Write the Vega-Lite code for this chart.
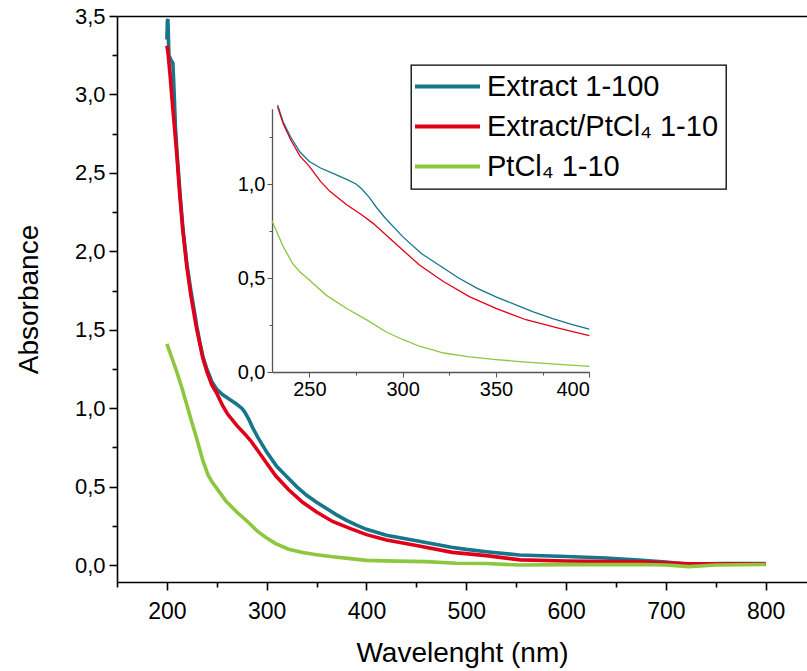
{
  "$schema": "https://vega.github.io/schema/vega-lite/v6.json",
  "width": 690,
  "height": 566,
  "autosize": {"type": "none"},
  "padding": {"left": 117, "top": 16, "right": 0, "bottom": 89},
  "background": "white",
  "config": {
    "view": {"stroke": null},
    "font": "Liberation Sans",
    "axis": {"grid": false, "domainColor": "black", "tickColor": "black", "labelColor": "black", "titleColor": "black", "domainWidth": 1.6, "tickWidth": 1.6, "labelFont": "Liberation Sans", "titleFont": "Liberation Sans", "titleFontWeight": "normal"},
    "legend": {"orient": "none", "legendX": 294, "legendY": 49, "strokeColor": "black", "strokeWidth": 1.3, "fillColor": "white", "padding": 7, "symbolType": "M-5,0H5", "symbolSize": 169, "symbolOffset": 15, "symbolStrokeWidth": 4, "labelFontSize": 29, "labelFont": "Liberation Sans", "labelColor": "black", "rowPadding": 10, "labelOffset": 25, "labelLimit": 0}
  },
  "datasets": {
    "spec": [
      {"s": "Extract 1-100", "wl": 200, "a": 3.35},
      {"s": "Extract 1-100", "wl": 200.5, "a": 3.47},
      {"s": "Extract 1-100", "wl": 201, "a": 3.48},
      {"s": "Extract 1-100", "wl": 202, "a": 3.25},
      {"s": "Extract 1-100", "wl": 204, "a": 3.22},
      {"s": "Extract 1-100", "wl": 206, "a": 3.2},
      {"s": "Extract 1-100", "wl": 207, "a": 3.05},
      {"s": "Extract 1-100", "wl": 208.5, "a": 2.8},
      {"s": "Extract 1-100", "wl": 210, "a": 2.64},
      {"s": "Extract 1-100", "wl": 213, "a": 2.38},
      {"s": "Extract 1-100", "wl": 216, "a": 2.15},
      {"s": "Extract 1-100", "wl": 220, "a": 1.92},
      {"s": "Extract 1-100", "wl": 224, "a": 1.75},
      {"s": "Extract 1-100", "wl": 228, "a": 1.6},
      {"s": "Extract 1-100", "wl": 230, "a": 1.52},
      {"s": "Extract 1-100", "wl": 233, "a": 1.42},
      {"s": "Extract 1-100", "wl": 236, "a": 1.33},
      {"s": "Extract 1-100", "wl": 240, "a": 1.25},
      {"s": "Extract 1-100", "wl": 245, "a": 1.17},
      {"s": "Extract 1-100", "wl": 250, "a": 1.12},
      {"s": "Extract 1-100", "wl": 256, "a": 1.085},
      {"s": "Extract 1-100", "wl": 263, "a": 1.055},
      {"s": "Extract 1-100", "wl": 270, "a": 1.025},
      {"s": "Extract 1-100", "wl": 275, "a": 1.0},
      {"s": "Extract 1-100", "wl": 278, "a": 0.975},
      {"s": "Extract 1-100", "wl": 282, "a": 0.93},
      {"s": "Extract 1-100", "wl": 286, "a": 0.875},
      {"s": "Extract 1-100", "wl": 291, "a": 0.815},
      {"s": "Extract 1-100", "wl": 300, "a": 0.72},
      {"s": "Extract 1-100", "wl": 310, "a": 0.63},
      {"s": "Extract 1-100", "wl": 320, "a": 0.565},
      {"s": "Extract 1-100", "wl": 330, "a": 0.5},
      {"s": "Extract 1-100", "wl": 340, "a": 0.445},
      {"s": "Extract 1-100", "wl": 350, "a": 0.4},
      {"s": "Extract 1-100", "wl": 360, "a": 0.36},
      {"s": "Extract 1-100", "wl": 370, "a": 0.32},
      {"s": "Extract 1-100", "wl": 380, "a": 0.285},
      {"s": "Extract 1-100", "wl": 390, "a": 0.255},
      {"s": "Extract 1-100", "wl": 400, "a": 0.228},
      {"s": "Extract 1-100", "wl": 420, "a": 0.19},
      {"s": "Extract 1-100", "wl": 450, "a": 0.155},
      {"s": "Extract 1-100", "wl": 485, "a": 0.114},
      {"s": "Extract 1-100", "wl": 500, "a": 0.1},
      {"s": "Extract 1-100", "wl": 520, "a": 0.085},
      {"s": "Extract 1-100", "wl": 553, "a": 0.064},
      {"s": "Extract 1-100", "wl": 600, "a": 0.055},
      {"s": "Extract 1-100", "wl": 640, "a": 0.045},
      {"s": "Extract 1-100", "wl": 676, "a": 0.03},
      {"s": "Extract 1-100", "wl": 700, "a": 0.02},
      {"s": "Extract 1-100", "wl": 723, "a": 0.005},
      {"s": "Extract 1-100", "wl": 740, "a": 0.008},
      {"s": "Extract 1-100", "wl": 760, "a": 0.01},
      {"s": "Extract 1-100", "wl": 800, "a": 0.01},

      {"s": "Extract/PtCl₄ 1-10", "wl": 200, "a": 3.31},
      {"s": "Extract/PtCl₄ 1-10", "wl": 201, "a": 3.27},
      {"s": "Extract/PtCl₄ 1-10", "wl": 203, "a": 3.14},
      {"s": "Extract/PtCl₄ 1-10", "wl": 205, "a": 2.98},
      {"s": "Extract/PtCl₄ 1-10", "wl": 208, "a": 2.76},
      {"s": "Extract/PtCl₄ 1-10", "wl": 210, "a": 2.61},
      {"s": "Extract/PtCl₄ 1-10", "wl": 213, "a": 2.35},
      {"s": "Extract/PtCl₄ 1-10", "wl": 216, "a": 2.13},
      {"s": "Extract/PtCl₄ 1-10", "wl": 220, "a": 1.9},
      {"s": "Extract/PtCl₄ 1-10", "wl": 224, "a": 1.72},
      {"s": "Extract/PtCl₄ 1-10", "wl": 228, "a": 1.57},
      {"s": "Extract/PtCl₄ 1-10", "wl": 230, "a": 1.5},
      {"s": "Extract/PtCl₄ 1-10", "wl": 233, "a": 1.41},
      {"s": "Extract/PtCl₄ 1-10", "wl": 236, "a": 1.32},
      {"s": "Extract/PtCl₄ 1-10", "wl": 240, "a": 1.235},
      {"s": "Extract/PtCl₄ 1-10", "wl": 245, "a": 1.148},
      {"s": "Extract/PtCl₄ 1-10", "wl": 250, "a": 1.094},
      {"s": "Extract/PtCl₄ 1-10", "wl": 256, "a": 1.014},
      {"s": "Extract/PtCl₄ 1-10", "wl": 261, "a": 0.961},
      {"s": "Extract/PtCl₄ 1-10", "wl": 270, "a": 0.89},
      {"s": "Extract/PtCl₄ 1-10", "wl": 278, "a": 0.836},
      {"s": "Extract/PtCl₄ 1-10", "wl": 284, "a": 0.792},
      {"s": "Extract/PtCl₄ 1-10", "wl": 291, "a": 0.73},
      {"s": "Extract/PtCl₄ 1-10", "wl": 300, "a": 0.649},
      {"s": "Extract/PtCl₄ 1-10", "wl": 309, "a": 0.569},
      {"s": "Extract/PtCl₄ 1-10", "wl": 322, "a": 0.48},
      {"s": "Extract/PtCl₄ 1-10", "wl": 336, "a": 0.4},
      {"s": "Extract/PtCl₄ 1-10", "wl": 350, "a": 0.338},
      {"s": "Extract/PtCl₄ 1-10", "wl": 366, "a": 0.278},
      {"s": "Extract/PtCl₄ 1-10", "wl": 384, "a": 0.232},
      {"s": "Extract/PtCl₄ 1-10", "wl": 400, "a": 0.194},
      {"s": "Extract/PtCl₄ 1-10", "wl": 420, "a": 0.16},
      {"s": "Extract/PtCl₄ 1-10", "wl": 450, "a": 0.125},
      {"s": "Extract/PtCl₄ 1-10", "wl": 486, "a": 0.081},
      {"s": "Extract/PtCl₄ 1-10", "wl": 520, "a": 0.06},
      {"s": "Extract/PtCl₄ 1-10", "wl": 554, "a": 0.033},
      {"s": "Extract/PtCl₄ 1-10", "wl": 600, "a": 0.026},
      {"s": "Extract/PtCl₄ 1-10", "wl": 675, "a": 0.02},
      {"s": "Extract/PtCl₄ 1-10", "wl": 700, "a": 0.015},
      {"s": "Extract/PtCl₄ 1-10", "wl": 723, "a": 0.008},
      {"s": "Extract/PtCl₄ 1-10", "wl": 760, "a": 0.008},
      {"s": "Extract/PtCl₄ 1-10", "wl": 800, "a": 0.008},

      {"s": "PtCl₄ 1-10", "wl": 200, "a": 1.41},
      {"s": "PtCl₄ 1-10", "wl": 205, "a": 1.32},
      {"s": "PtCl₄ 1-10", "wl": 210, "a": 1.23},
      {"s": "PtCl₄ 1-10", "wl": 215, "a": 1.13},
      {"s": "PtCl₄ 1-10", "wl": 220, "a": 1.02},
      {"s": "PtCl₄ 1-10", "wl": 225, "a": 0.91},
      {"s": "PtCl₄ 1-10", "wl": 230, "a": 0.804},
      {"s": "PtCl₄ 1-10", "wl": 233, "a": 0.735},
      {"s": "PtCl₄ 1-10", "wl": 236, "a": 0.667},
      {"s": "PtCl₄ 1-10", "wl": 241, "a": 0.578},
      {"s": "PtCl₄ 1-10", "wl": 245, "a": 0.532},
      {"s": "PtCl₄ 1-10", "wl": 250, "a": 0.489},
      {"s": "PtCl₄ 1-10", "wl": 259, "a": 0.409},
      {"s": "PtCl₄ 1-10", "wl": 270, "a": 0.338},
      {"s": "PtCl₄ 1-10", "wl": 281, "a": 0.276},
      {"s": "PtCl₄ 1-10", "wl": 291, "a": 0.214},
      {"s": "PtCl₄ 1-10", "wl": 300, "a": 0.173},
      {"s": "PtCl₄ 1-10", "wl": 309, "a": 0.137},
      {"s": "PtCl₄ 1-10", "wl": 322, "a": 0.101},
      {"s": "PtCl₄ 1-10", "wl": 336, "a": 0.08},
      {"s": "PtCl₄ 1-10", "wl": 350, "a": 0.066},
      {"s": "PtCl₄ 1-10", "wl": 366, "a": 0.053},
      {"s": "PtCl₄ 1-10", "wl": 384, "a": 0.041},
      {"s": "PtCl₄ 1-10", "wl": 400, "a": 0.03},
      {"s": "PtCl₄ 1-10", "wl": 430, "a": 0.025},
      {"s": "PtCl₄ 1-10", "wl": 460, "a": 0.022},
      {"s": "PtCl₄ 1-10", "wl": 490, "a": 0.012},
      {"s": "PtCl₄ 1-10", "wl": 520, "a": 0.01},
      {"s": "PtCl₄ 1-10", "wl": 553, "a": 0.0},
      {"s": "PtCl₄ 1-10", "wl": 600, "a": 0.003},
      {"s": "PtCl₄ 1-10", "wl": 676, "a": 0.004},
      {"s": "PtCl₄ 1-10", "wl": 700, "a": 0.0},
      {"s": "PtCl₄ 1-10", "wl": 723, "a": -0.01},
      {"s": "PtCl₄ 1-10", "wl": 750, "a": 0.0},
      {"s": "PtCl₄ 1-10", "wl": 800, "a": 0.004}
    ]
  },
  "data": {"name": "spec"},
  "resolve": {"scale": {"x": "independent", "y": "independent"}, "axis": {"x": "independent", "y": "independent"}},
  "layer": [
    {
      "mark": {"type": "line", "strokeWidth": 3.6, "clip": true},
      "encoding": {
        "x": {"field": "wl", "type": "quantitative", "scale": {"domain": [150, 841.4], "nice": false, "zero": false},
              "axis": {"orient": "bottom", "values": [200, 300, 400, 500, 600, 700, 800], "tickSize": 8, "labelFontSize": 23, "labelPadding": 10, "title": "Wavelenght (nm)", "titleFontSize": 28, "titlePadding": 16}},
        "y": {"field": "a", "type": "quantitative", "scale": {"domain": [-0.108, 3.5], "nice": false, "zero": false},
              "axis": {"orient": "left", "values": [0, 0.5, 1, 1.5, 2, 2.5, 3, 3.5], "tickSize": 8, "labelFontSize": 22, "labelPadding": 4, "labelExpr": "replace(format(datum.value, '.1f'), '.', ',')", "title": "Absorbance", "titleFontSize": 28, "titlePadding": 31}},
        "color": {"field": "s", "type": "nominal", "title": null,
                  "scale": {"domain": ["Extract 1-100", "Extract/PtCl₄ 1-10", "PtCl₄ 1-10"], "range": ["#17758c", "#e1001a", "#8dc63f"]}}
      }
    },
    {
      "mark": {"type": "line", "opacity": 0},
      "encoding": {
        "x": {"field": "wl", "type": "quantitative", "scale": {"domain": [150, 841.4], "nice": false, "zero": false},
              "axis": {"orient": "bottom", "values": [150, 250, 350, 450, 550, 650, 750], "tickSize": 5, "labels": false, "domain": false, "title": null}},
        "y": {"field": "a", "type": "quantitative", "scale": {"domain": [-0.108, 3.5], "nice": false, "zero": false},
              "axis": {"orient": "left", "values": [0.25, 0.75, 1.25, 1.75, 2.25, 2.75, 3.25], "tickSize": 5, "labels": false, "domain": false, "title": null}}
      }
    },
    {
      "mark": {"type": "line", "opacity": 0},
      "encoding": {
        "x": {"field": "wl", "type": "quantitative", "scale": {"domain": [150, 841.4], "nice": false, "zero": false},
              "axis": {"orient": "top", "values": [], "ticks": false, "labels": false, "title": null}}
      }
    },
    {
      "transform": [{"filter": "datum.wl >= 230 && datum.wl <= 400 && datum.a <= 1.425"}],
      "mark": {"type": "line", "strokeWidth": 1.3},
      "encoding": {
        "x": {"field": "wl", "type": "quantitative", "scale": {"domain": [230, 400], "range": [155, 472.3], "nice": false, "zero": false},
              "axis": {"orient": "bottom", "offset": -210, "values": [250, 300, 350, 400], "tickSize": 5, "tickWidth": 1, "domainWidth": 1.3, "domainColor": "#555555", "tickColor": "#555555", "labelFontSize": 20, "labelPadding": 2, "title": null}},
        "y": {"field": "a", "type": "quantitative", "scale": {"domain": [0, 1.4], "range": [356, 92.8], "nice": false, "zero": false},
              "axis": {"orient": "left", "offset": -155, "values": [0, 0.5, 1], "tickSize": 5, "tickWidth": 1, "domainWidth": 1.3, "domainColor": "#555555", "tickColor": "#555555", "labelFontSize": 20, "labelPadding": 2, "labelExpr": "replace(format(datum.value, '.1f'), '.', ',')", "title": null}},
        "color": {"field": "s", "type": "nominal", "title": null,
                  "scale": {"domain": ["Extract 1-100", "Extract/PtCl₄ 1-10", "PtCl₄ 1-10"], "range": ["#17758c", "#e1001a", "#8dc63f"]}}
      }
    },
    {
      "transform": [{"filter": "datum.wl >= 230 && datum.wl <= 400"}],
      "mark": {"type": "line", "opacity": 0},
      "encoding": {
        "x": {"field": "wl", "type": "quantitative", "scale": {"domain": [230, 400], "range": [155, 472.3], "nice": false, "zero": false},
              "axis": {"orient": "bottom", "offset": -210, "values": [275, 325, 375], "tickSize": 3, "tickWidth": 1, "tickColor": "#555555", "labels": false, "domain": false, "title": null}},
        "y": {"field": "a", "type": "quantitative", "scale": {"domain": [0, 1.4], "range": [356, 92.8], "nice": false, "zero": false},
              "axis": {"orient": "left", "offset": -155, "values": [0.25, 0.75, 1.25], "tickSize": 3, "tickWidth": 1, "tickColor": "#555555", "labels": false, "domain": false, "title": null}}
      }
    }
  ]
}
